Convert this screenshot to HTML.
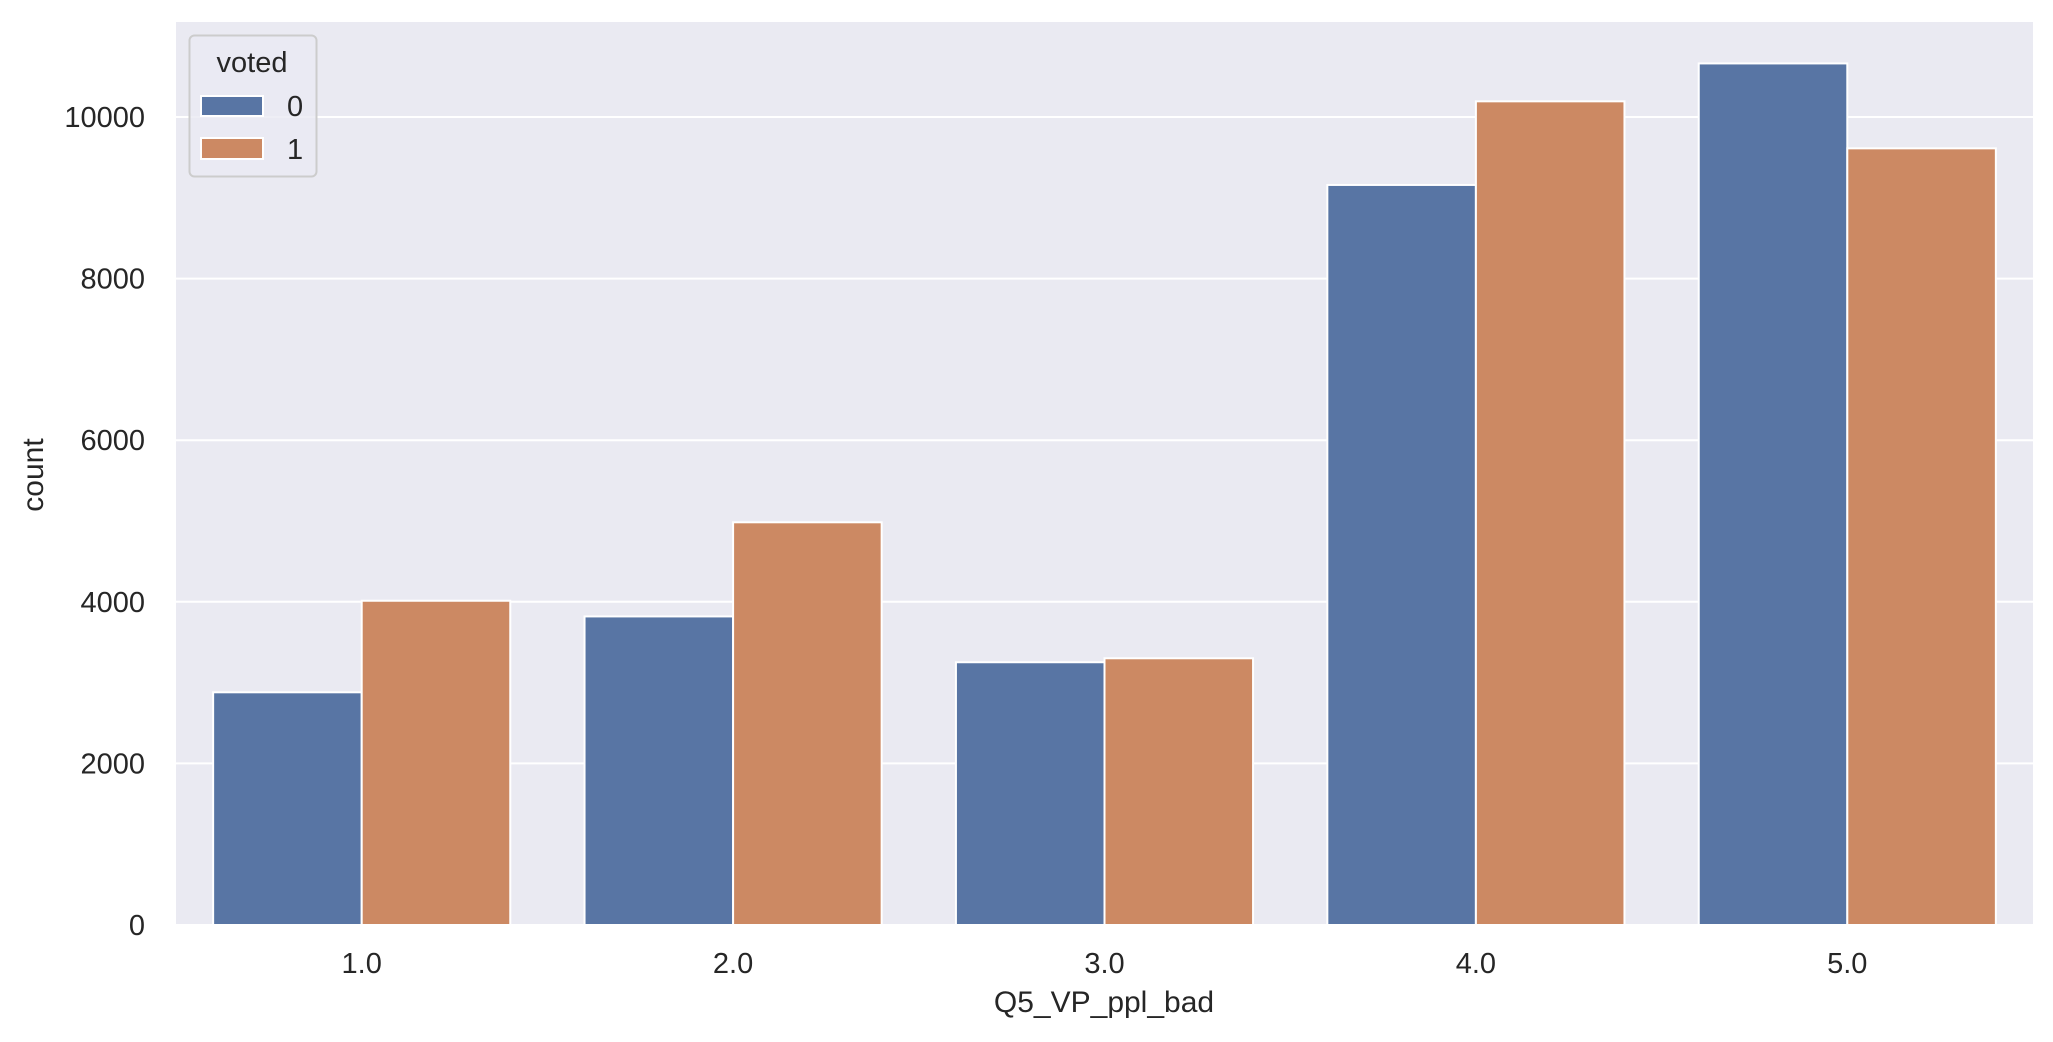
<!DOCTYPE html>
<html><head><meta charset="utf-8"><style>
body{margin:0;background:#fff}
svg{display:block;font-family:"Liberation Sans",Arial,sans-serif}
</style></head><body>
<svg id="chart" width="2053" height="1042" viewBox="0 0 2053 1042">
<rect x="176" y="22" width="1857" height="903" fill="#eaeaf2"/>
<g id="grid"></g><g id="bars"></g><g id="xt"></g><g id="yt"></g>
<text x="43" y="475" transform="rotate(-90 43 475)" text-anchor="middle" font-size="30" fill="#262626">count</text>
<text x="1104" y="1012" text-anchor="middle" font-size="30" fill="#262626">Q5_VP_ppl_bad</text>
<g>
<rect x="189.5" y="35.5" width="127" height="141" rx="5" fill="#eaeaf2" fill-opacity="0.8" stroke="#cccccc" stroke-width="2"/>
<text x="252" y="72" text-anchor="middle" font-size="29" fill="#262626">voted</text>
<rect x="201" y="96" width="62" height="20" fill="#5875a4" stroke="#fff" stroke-width="2"/>
<text x="287" y="116" font-size="29" fill="#262626">0</text>
<rect x="201" y="138" width="62" height="21" fill="#cc8963" stroke="#fff" stroke-width="2"/>
<text x="287" y="159" font-size="29" fill="#262626">1</text>
</g>
</svg>
<script>
const categories=["1.0","2.0","3.0","4.0","5.0"];
const voted0=[2880,3819,3252,9159,10663];
const voted1=[4013,4984,3301,10194,9612];
const yTicks=[0,2000,4000,6000,8000,10000];
const NS="http://www.w3.org/2000/svg";
const L=176,R=2033,B=925,T=22;
const yMax=(B-T)/0.0808;
function y(v){return B-v/yMax*(B-T);}
const step=(R-L)/categories.length;
function xc(i){return L+step*(i+0.5);}
function mk(tag,attrs,parent){const e=document.createElementNS(NS,tag);for(const k in attrs)e.setAttribute(k,attrs[k]);document.getElementById(parent).appendChild(e);return e;}
yTicks.forEach(t=>{
 const g=mk('line',{x1:L,x2:R,y1:y(t),y2:y(t),stroke:'#fff','stroke-width':2},'grid');
 
 
 const tx=mk('text',{x:145,y:y(t)+10,'text-anchor':'end','font-size':29,fill:'#262626'},'yt');
 tx.textContent=t;
 
 
});
const bw=step*0.4;
categories.forEach((c,i)=>{
 const b0=mk('rect',{x:xc(i)-bw,y:y(voted0[i]),width:bw,height:B-y(voted0[i]),fill:'#5875a4',stroke:'#fff','stroke-width':2},'bars');
 
 
 const b1=mk('rect',{x:xc(i),y:y(voted1[i]),width:bw,height:B-y(voted1[i]),fill:'#cc8963',stroke:'#fff','stroke-width':2},'bars');
 
 
 const tx=mk('text',{x:xc(i),y:973,'text-anchor':'middle','font-size':29,fill:'#262626'},'xt');
 tx.textContent=c;
 
 
});
</script>
</body></html>
